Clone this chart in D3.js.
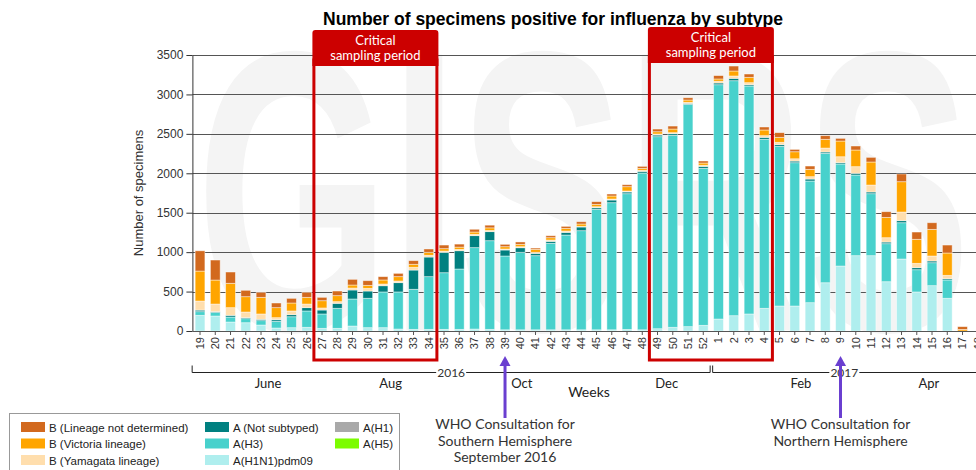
<!DOCTYPE html>
<html><head><meta charset="utf-8">
<script src="https://cdn.jsdelivr.net/npm/d3@7"></script>
<style>
html,body{margin:0;padding:0;background:#fff;}
svg{display:block;}
</style></head>
<body>
<svg id="chart" width="976" height="470"></svg>
<script>
// ---------- DATA ----------
const weekLabels = [19,20,21,22,23,24,25,26,27,28,29,30,31,32,33,34,35,36,37,38,39,40,41,42,43,44,45,46,47,48,49,50,51,52,
                    1,2,3,4,5,6,7,8,9,10,11,12,13,14,15,16,17,18];
const weekYears = weekLabels.map((w,i)=> i<34 ? 2016 : 2017);
const pdm09 = [199,190,114,105,76,38,42,47,34,34, 63,42,42,25,21,21,21,21,25,21, 15,15,15,15,15,15,15,15,20,15, 29,47,55,72,
               152,194,216,288,317,317,359,612,824,955, 955,625,913,495,575,415,0,0];
const h3 =    [46,45,63,51,55,85,139,207,182,254, 343,373,453,470,508,668,718,765,1032,1124, 936,983,940,1097,1202,1257,1528,1612,1721,1988, 2435,2434,2819,1991,
               2971,2980,2891,2143,2025,1817,1543,1641,1294,1023, 786,482,460,282,291,232,0,0];
const notSub = [20,10,22,13,17,20,26,42,50,63, 114,92,79,118,244,249,259,232,152,115, 76,58,30,25,34,47,20,34,22,22, 21,21,13,25,
               22,30,16,25,21,21,25,17,16,22, 22,21,26,26,22,16,0,0];
const h1 = weekLabels.map(()=>0);
const h5 = weekLabels.map(()=>0);
const yamagata = [115,97,97,72,68,26,47,46,26,21, 25,34,22,21,35,22,16,17,17,15, 13,13,13,17,17,8,13,13,12,13, 13,13,13,13,
               22,30,26,21,30,29,30,50,76,84, 88,55,110,55,63,43,0,0];
const victoria = [380,304,309,194,211,127,101,85,92,76, 38,38,51,55,38,38,30,29,29,33, 29,30,38,29,34,30,30,38,55,25, 29,46,29,29,
               29,63,68,72,63,89,93,111,199,211, 292,258,384,305,338,283,20,0];
const bNotDet = [257,254,143,81,64,59,59,64,43,59, 72,59,42,42,46,42,46,38,35,34, 30,30,16,25,25,29,34,25,25,25, 34,38,29,26,
               43,63,42,38,59,30,42,46,34,51, 59,72,98,92,84,101,35,0];

const seriesNames = ["A(H1N1)pdm09","A(H3)","A (Not subtyped)","A(H1)","A(H5)","B (Yamagata lineage)","B (Victoria lineage)","B (Lineage not determined)"];
const seriesValues = [pdm09, h3, notSub, h1, h5, yamagata, victoria, bNotDet];
const seriesColors = ["#AFEEEE","#48D1CC","#008080","#A9A9A9","#7CFC00","#FFDEAD","#FFA500","#D2691E"];

const yTicks = [0,500,1000,1500,2000,2500,3000,3500];
const monthLabels = ["June","Aug","Oct","Dec","Feb","Apr"];
const monthAtIndex = [4.46, 12.5, 21.1, 30.6, 39.4, 47.8];   // position in weeks from first week
const criticalPeriods = [["2016-27","2016-34"],["2016-49","2017-4"]];
const whoConsult = [{week:"2016-39", lines:["WHO Consultation for","Southern Hemisphere","September 2016"]},
                    {week:"2017-9",  lines:["WHO Consultation for","Northern Hemisphere"]}];

// ---------- CHART ----------
const svg = d3.select("#chart");
const W = 976, H = 470;
const left = 192.4, step = 15.25;
const keys = weekLabels.map((w,i)=> weekYears[i]+"-"+w);
const x = d3.scaleBand().domain(keys).range([left, left+step*keys.length]).paddingInner(0.36).paddingOuter(0.18);
const y = d3.scaleLinear().domain([0,3500]).range([331,55]);

const rows = keys.map((k,i)=>{ const r={key:k}; seriesNames.forEach((s,j)=> r[s]=seriesValues[j][i]); return r; });
const stack = d3.stack().keys(seriesNames)(rows);
const color = d3.scaleOrdinal().domain(seriesNames).range(seriesColors);

// watermark
svg.append("text").attr("x",196).attr("y",330)
  .attr("font-family","Liberation Sans, Arial").attr("font-weight","bold").attr("font-size",400)
  .attr("textLength",775).attr("lengthAdjust","spacingAndGlyphs")
  .attr("fill","#f4f4f4").text("GISRS");

// title
svg.append("text").attr("x",553).attr("y",25).attr("text-anchor","middle")
  .attr("font-family","Liberation Sans, Arial").attr("font-weight","bold").attr("font-size",17.5)
  .attr("fill","#000").text("Number of specimens positive for influenza by subtype");

// gridlines
svg.append("g").selectAll("line").data(yTicks.filter(d=>d>0)).join("line")
  .attr("x1",left).attr("x2",W).attr("y1",d=>Math.round(y(d))+0.5).attr("y2",d=>Math.round(y(d))+0.5)
  .attr("stroke","#555").attr("stroke-width",1);

// bars
svg.append("g").selectAll("g").data(stack).join("g").attr("fill",d=>color(d.key))
  .selectAll("rect").data(d=>d).join("rect")
  .attr("x",d=>x(d.data.key)).attr("width",x.bandwidth())
  .attr("y",d=>y(d[1])).attr("height",d=>Math.max(0,y(d[0])-y(d[1])))
  .attr("stroke","rgba(255,255,255,0.55)").attr("stroke-width",0.8);

// y axis
const yAxis = svg.append("g").attr("transform",`translate(${left},0)`)
  .call(d3.axisLeft(y).tickValues(yTicks).tickFormat(d3.format("d")).tickSize(6).tickSizeOuter(0).tickPadding(3));
yAxis.selectAll("text").attr("font-family","Liberation Sans, Arial").attr("font-size",12).attr("fill","#333");
yAxis.selectAll("line,path").attr("stroke","#333");

svg.append("text").attr("transform","translate(143,193) rotate(-90)").attr("text-anchor","middle")
  .attr("font-family","Liberation Sans, Arial").attr("font-size",13).attr("fill","#333").text("Number of specimens");

// x axis
const xAxis = svg.append("g").attr("transform","translate(0,331)")
  .call(d3.axisBottom(x).tickFormat(k=>k.split("-")[1]).tickSize(4).tickSizeOuter(0));
xAxis.select("path").attr("stroke","#555").attr("d",`M${left},0.5H${W}`);
xAxis.selectAll("line").attr("stroke","#555");
xAxis.selectAll("text").attr("font-family","Liberation Sans, Arial").attr("font-size",11).attr("fill","#333")
  .attr("transform","rotate(-90)").attr("text-anchor","end").attr("x",-6).attr("y",0).attr("dy","0.35em");

// year brackets
const yearY = 372.5;
const x2016a = x(keys[0]) - 3, x2016b = x("2016-52") + x.bandwidth() + 2;
const x2017a = x("2017-1") - 1, x2017b = W;
const fontG = "Lato, 'Open Sans', sans-serif";
const br = svg.append("g").attr("stroke","#222").attr("stroke-width",1).attr("fill","none");
br.append("path").attr("d",`M${x2016a},${yearY-7}V${yearY}H${x2016b}V${yearY-7}`);
br.append("path").attr("d",`M${x2017a},${yearY-7}V${yearY}H${x2017b}`);
[[ "2016",(x2016a+x2016b)/2 ],[ "2017",(x2017a+x2017b)/2 ]].forEach(([t,cx])=>{
  svg.append("rect").attr("x",cx-15).attr("y",yearY-7).attr("width",30).attr("height",13).attr("fill","#fff");
  svg.append("text").attr("x",cx).attr("y",yearY+4).attr("text-anchor","middle")
    .attr("font-family",fontG).attr("font-size",12).attr("fill","#333").text(t);
});
monthLabels.forEach((m,i)=>{
  svg.append("text").attr("x",left+step*(monthAtIndex[i]+0.5)).attr("y",388).attr("text-anchor","middle")
    .attr("font-family",fontG).attr("font-size",13).attr("fill","#222").text(m);
});
svg.append("text").attr("x",589).attr("y",397).attr("text-anchor","middle")
  .attr("font-family",fontG).attr("font-size",14).attr("fill","#222").text("Weeks");

// critical sampling periods
const red = "#CC0000";
criticalPeriods.forEach(([a,b],i)=>{
  const x0 = x(a) - x.step()*x.paddingInner()/2 - 0.5;
  const x1 = x(b) + x.bandwidth() + x.step()*x.paddingInner()/2 + 0.5;
  const top = i===0 ? 30 : 27;
  const g = svg.append("g");
  g.append("rect").attr("x",x0).attr("y",top+30).attr("width",x1-x0).attr("height",360-top-30)
    .attr("fill","none").attr("stroke",red).attr("stroke-width",3);
  g.append("path").attr("d",`M${x0-1.5},${top+36}V${top+3}Q${x0-1.5},${top} ${x0+1.5},${top}H${x1-1.5}Q${x1+1.5},${top} ${x1+1.5},${top+3}V${top+36}Z`)
    .attr("fill",red);
  g.append("text").attr("x",(x0+x1)/2).attr("y",top+15).attr("text-anchor","middle")
    .attr("font-family",fontG).attr("font-size",13).attr("fill","#fff").text("Critical");
  g.append("text").attr("x",(x0+x1)/2).attr("y",top+30).attr("text-anchor","middle")
    .attr("font-family",fontG).attr("font-size",13).attr("fill","#fff").text("sampling period");
});

// WHO consultation arrows
const purple = "#6A3FD0";
whoConsult.forEach(c=>{
  const cx = x(c.week) + x.bandwidth()/2;
  svg.append("line").attr("x1",cx).attr("x2",cx).attr("y1",363).attr("y2",418)
    .attr("stroke",purple).attr("stroke-width",3);
  svg.append("path").attr("d",`M${cx},356L${cx-5.5},366L${cx+5.5},366Z`).attr("fill",purple);
  c.lines.forEach((l,j)=>{
    svg.append("text").attr("x",cx).attr("y",429+j*16.5).attr("text-anchor","middle")
      .attr("font-family",fontG).attr("font-size",14).attr("fill","#333").text(l);
  });
});

// legend
const lg = svg.append("g");
lg.append("rect").attr("x",9.5).attr("y",413.5).attr("width",390).attr("height",70)
  .attr("fill","#fff").attr("stroke","#999");
const legendOrder = [
  ["B (Lineage not determined)",21,427],["B (Victoria lineage)",21,443.5],["B (Yamagata lineage)",21,460],
  ["A (Not subtyped)",205,427],["A(H3)",205,443.5],["A(H1N1)pdm09",205,460],
  ["A(H1)",335,427],["A(H5)",335,443.5]];
legendOrder.forEach(([n,lx,ly])=>{
  lg.append("rect").attr("x",lx).attr("y",ly-5).attr("width",24).attr("height",10).attr("fill",color(n));
  lg.append("text").attr("x",lx+28).attr("y",ly+4.5).attr("font-family","Liberation Sans, Arial").attr("font-size",11.5)
    .attr("fill","#222").text(n);
});
</script>
</body></html>
